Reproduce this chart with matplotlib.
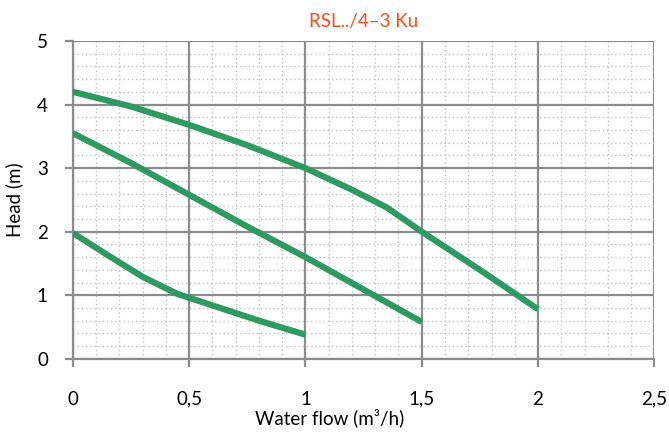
import matplotlib
matplotlib.use("Agg")
import matplotlib.pyplot as plt
from matplotlib.ticker import MultipleLocator

plt.rcParams['font.family'] = ['Lato', 'DejaVu Sans']

title = "RSL../4\u20133 Ku"
x_label = "Water flow (m\u00b3/h)"
y_label = "Head (m)"

x_ticks = [0, 0.5, 1, 1.5, 2, 2.5]
x_tick_labels = ["0", "0,5", "1", "1,5", "2", "2,5"]
y_ticks = [0, 1, 2, 3, 4, 5]

# Pump curves, one per speed setting
flow_high = [0, 0.25, 0.5, 0.75, 1.0, 1.2, 1.35, 1.5, 1.75, 2.0]
head_high = [4.2, 3.97, 3.68, 3.36, 3.0, 2.66, 2.38, 2.0, 1.4, 0.78]

flow_mid = [0, 0.25, 0.5, 0.75, 1.0, 1.25, 1.5]
head_mid = [3.55, 3.08, 2.58, 2.08, 1.6, 1.09, 0.58]

flow_low = [0, 0.15, 0.3, 0.45, 0.6, 0.8, 1.0]
head_low = [1.98, 1.63, 1.29, 1.02, 0.84, 0.6, 0.38]

green = "#2e9a62"

fig = plt.figure(figsize=(6.69, 4.36), dpi=100)
ax = fig.add_axes([0.109, 0.177, 0.869, 0.729])

for fx, hy in [(flow_high, head_high), (flow_mid, head_mid), (flow_low, head_low)]:
    ax.plot(fx, hy, color=green, lw=4.5, solid_capstyle='butt', solid_joinstyle='round', zorder=3)

ax.set_xlim(0, 2.5)
ax.set_ylim(0, 5)
ax.set_xticks(x_ticks)
ax.set_xticklabels(x_tick_labels)
ax.set_yticks(y_ticks)
ax.xaxis.set_minor_locator(MultipleLocator(0.1))
ax.yaxis.set_minor_locator(MultipleLocator(0.2))

ax.grid(which='major', color='#8c8c8c', lw=1.6, zorder=1)
ax.grid(which='minor', color='#c0c0c0', lw=1.0, linestyle=(0, (1.0, 2.0)), zorder=0)
ax.tick_params(which='minor', length=0)
ax.tick_params(which='major', length=6, width=1.6, color='#8c8c8c', labelsize=13.5)
ax.tick_params(axis='x', pad=17)
ax.tick_params(axis='y', pad=12)

for side in ['top', 'right']:
    ax.spines[side].set_visible(False)
for side in ['left', 'bottom']:
    ax.spines[side].set_color('#8c8c8c')
    ax.spines[side].set_linewidth(1.6)

ax.set_xlabel(x_label, fontsize=13.5)
ax.xaxis.set_label_coords(0.442, -0.155)
ax.set_ylabel(y_label, fontsize=13.5, labelpad=10)
ax.set_title(title, color='#ff4a1c', fontsize=13.5, pad=10)

fig.savefig("out.png", dpi=100)
